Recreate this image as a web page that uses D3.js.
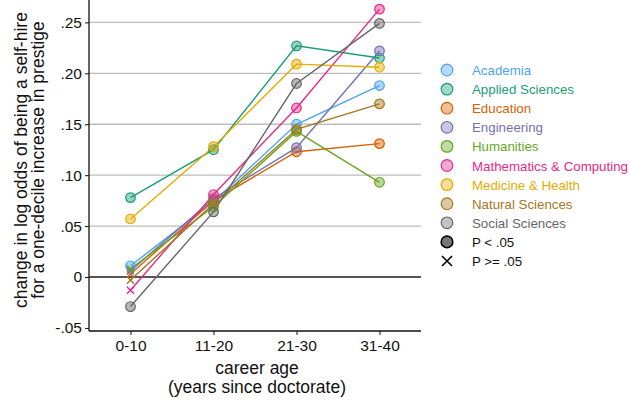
<!DOCTYPE html>
<html>
<head>
<meta charset="utf-8">
<script src="https://cdn.jsdelivr.net/npm/d3@7"></script>
<style>
  html, body { margin: 0; padding: 0; background: #fff; }
  svg { display: block; font-family: "Liberation Sans", Arial, sans-serif; }
</style>
</head>
<body>
<svg id="chart" width="630" height="404"></svg>
<script>
// Career-age bins
const careerAges = ["0-10", "11-20", "21-30", "31-40"];

// Fields, in legend order
const fields = ["Academia", "Applied Sciences", "Education", "Engineering", "Humanities",
  "Mathematics & Computing", "Medicine & Health", "Natural Sciences", "Social Sciences"];
const fieldColors = ["#4ea3f2", "#1b9e77", "#d95f02", "#7570b3", "#66a61e",
  "#e7298a", "#e6ab02", "#a6761d", "#666666"];

// Change in log odds per field, one value per career-age bin
const academia     = [0.011, 0.074, 0.150, 0.188];
const applied      = [0.078, 0.125, 0.227, 0.215];
const education    = [0.003, 0.075, 0.123, 0.131];
const engineering  = [0.006, 0.077, 0.127, 0.222];
const humanities   = [0.008, 0.069, 0.143, 0.093];
const mathematics  = [-0.013, 0.081, 0.166, 0.263];
const medicine     = [0.057, 0.128, 0.209, 0.206];
const natural      = [-0.003, 0.072, 0.145, 0.170];
const social       = [-0.029, 0.064, 0.190, 0.249];

// Significance per point: true = P < .05 (circle), false = P >= .05 (cross)
const sigAcademia    = [true, true, true, true];
const sigApplied     = [true, true, true, true];
const sigEducation   = [false, true, true, true];
const sigEngineering = [false, true, true, true];
const sigHumanities  = [false, true, true, true];
const sigMathematics = [false, true, true, true];
const sigMedicine    = [true, true, true, true];
const sigNatural     = [false, true, true, true];
const sigSocial      = [true, true, true, true];

const yTicks = [-0.05, 0, 0.05, 0.10, 0.15, 0.20, 0.25];
const yTickLabels = ["-.05", "0", ".05", ".10", ".15", ".20", ".25"];

const seriesValues = [academia, applied, education, engineering, humanities,
  mathematics, medicine, natural, social];
const seriesSig = [sigAcademia, sigApplied, sigEducation, sigEngineering, sigHumanities,
  sigMathematics, sigMedicine, sigNatural, sigSocial];

const series = fields.map((name, i) => ({
  name, color: fieldColors[i],
  points: careerAges.map((c, j) => ({ c, v: seriesValues[i][j], sig: seriesSig[i][j] }))
}));

const svg = d3.select("#chart");
const plotLeft = 89, plotRight = 421, plotTop = 0, plotBottom = 331;

const x = d3.scalePoint().domain(careerAges).range([plotLeft, plotRight]).padding(0.5);
const y = d3.scaleLinear().domain([-0.053, 0.272]).range([plotBottom, plotTop]);

function label(parent, tx, ty, str, size, anchor, color, rotate) {
  const rot = rotate ? ` rotate(${rotate})` : "";
  return parent.append("text")
    .attr("transform", `translate(${tx},${ty})${rot}`)
    .attr("text-anchor", anchor || "start")
    .attr("font-size", size).attr("fill", color || "#111").text(str);
}

// Horizontal reference lines
svg.append("g").selectAll("line").data(yTicks.filter(t => t > -0.05)).join("line")
  .attr("x1", plotLeft).attr("x2", plotRight)
  .attr("y1", d => y(d)).attr("y2", d => y(d))
  .attr("stroke", d => d === 0 ? "#555" : "#bdbdbd")
  .attr("stroke-width", d => d === 0 ? 2.2 : 1.3);

// Axes
const yAxis = d3.axisLeft(y).tickValues(yTicks)
  .tickFormat((d, i) => yTickLabels[i]).tickSize(4).tickPadding(3);
const gy = svg.append("g").attr("transform", `translate(${plotLeft},0)`).call(yAxis);
gy.select(".domain").attr("d", `M0,${plotTop}V${plotBottom}`).attr("stroke", "#111").attr("stroke-width", 1.3);
gy.selectAll(".tick line").attr("stroke", "#111");
gy.selectAll(".tick text").attr("font-size", 15.5).attr("fill", "#111")
  .attr("font-family", "Liberation Sans, Arial, sans-serif");

const xAxis = d3.axisBottom(x).tickSize(4).tickPadding(5);
const gx = svg.append("g").attr("transform", `translate(0,${plotBottom})`).call(xAxis);
gx.select(".domain").attr("d", `M${plotLeft},0H${plotRight}`).attr("stroke", "#111").attr("stroke-width", 1.3);
gx.selectAll(".tick line").attr("stroke", "#111");
gx.selectAll(".tick text").attr("font-size", 15.5).attr("fill", "#111")
  .attr("font-family", "Liberation Sans, Arial, sans-serif");

// Axis titles
const xMid = (plotLeft + plotRight) / 2 + 2;
label(svg, xMid, 373.5, "career age", 17.5, "middle");
label(svg, xMid, 392.5, "(years since doctorate)", 17.5, "middle");

label(svg, 27, 160, "change in log odds of being a self-hire", 17.5, "middle", "#111", -90);
label(svg, 44, 160, "for a one-decile increase in prestige", 17.5, "middle", "#111", -90);

// Lines
const line = d3.line().x(d => x(d.c)).y(d => y(d.v));
svg.append("g").selectAll("path").data(series).join("path")
  .attr("d", d => line(d.points)).attr("fill", "none")
  .attr("stroke", d => d.color).attr("stroke-width", 1.4);

// Markers
const mk = svg.append("g");
series.forEach(s => {
  s.points.forEach(p => {
    const cx = x(p.c), cy = y(p.v);
    if (p.sig) {
      mk.append("circle").attr("cx", cx).attr("cy", cy).attr("r", 4.8)
        .attr("fill", d3.color(s.color).copy({opacity: 0.45}))
        .attr("stroke", s.color).attr("stroke-width", 1.2);
    } else {
      const r = 3.6;
      mk.append("path")
        .attr("d", `M${cx - r},${cy - r}L${cx + r},${cy + r}M${cx - r},${cy + r}L${cx + r},${cy - r}`)
        .attr("stroke", s.color).attr("stroke-width", 1.4).attr("fill", "none");
    }
  });
});

// Legend
const legX = 447, legY0 = 70, legStep = 19.1;
const leg = svg.append("g");
series.forEach((s, i) => {
  const yy = legY0 + i * legStep;
  leg.append("circle").attr("cx", legX).attr("cy", yy).attr("r", 5.8)
    .attr("fill", d3.color(s.color).copy({opacity: 0.4}))
    .attr("stroke", s.color).attr("stroke-width", 1.2);
  label(leg, legX + 25, yy + 5, s.name, 13.3, "start", s.color);
});
const sigY = legY0 + 9 * legStep;
leg.append("circle").attr("cx", legX).attr("cy", sigY).attr("r", 5.8)
  .attr("fill", "#777").attr("stroke", "#000").attr("stroke-width", 1.6);
label(leg, legX + 25, sigY + 5, "P < .05", 13.3, "start");
const nsY = legY0 + 10 * legStep, r2 = 5;
leg.append("path")
  .attr("d", `M${legX - r2},${nsY - r2}L${legX + r2},${nsY + r2}M${legX - r2},${nsY + r2}L${legX + r2},${nsY - r2}`)
  .attr("stroke", "#000").attr("stroke-width", 1.6);
label(leg, legX + 25, nsY + 5, "P >= .05", 13.3, "start");
</script>
</body>
</html>
